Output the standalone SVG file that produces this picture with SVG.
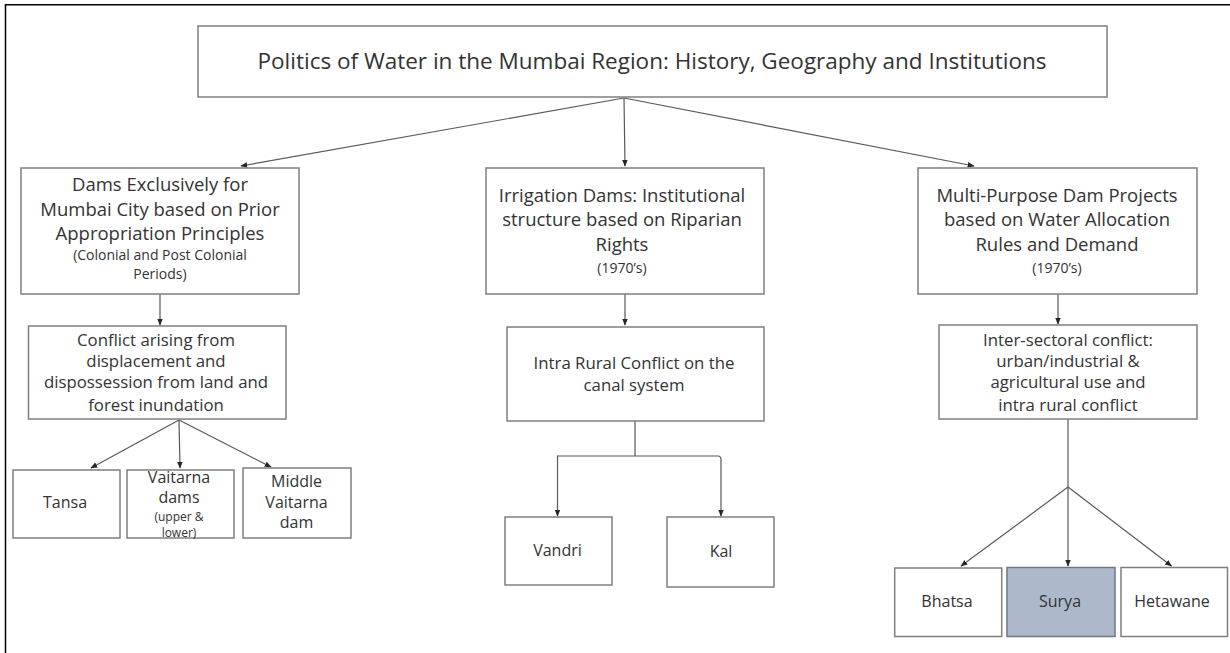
<svg xmlns="http://www.w3.org/2000/svg" width="1230" height="653" viewBox="0 0 1230 653">
<defs>
<marker id="ah" viewBox="0 0 10 10" refX="9" refY="5" markerWidth="7" markerHeight="7" orient="auto" markerUnits="userSpaceOnUse">
<path d="M0,1 L10,5 L0,9 Z" fill="#262626"/>
</marker>
<style>
.box{fill:#ffffff;stroke:#7f7f7f;stroke-width:1.5}
.hl{fill:#adb9ca;stroke:#6f7785;stroke-width:1.5}
.t{font-family:"Open Sans","Liberation Sans",sans-serif;fill:#333333;text-anchor:middle}
.t21{font-size:22.5px}
.t18{font-size:18.5px}
.t17{font-size:16.8px}
.t16{font-size:16px}
.t14{font-size:14px}
.t12{font-size:12px}
.c{fill:none;stroke:#595959;stroke-width:1.2}
.ca{fill:none;stroke:#595959;stroke-width:1.2;marker-end:url(#ah)}
</style>
</defs>
<rect x="0" y="0" width="1230" height="653" fill="#ffffff"/>
<path d="M5.5,653 L5.5,4.7 L1230,4.7" fill="none" stroke="#000" stroke-width="1.5"/>

<g id="connectors">
<line class="ca" x1="624" y1="98" x2="241" y2="166"/>
<line class="ca" x1="624" y1="98" x2="625" y2="166"/>
<line class="ca" x1="624" y1="98" x2="974" y2="166"/>
<line class="ca" x1="160" y1="294" x2="160" y2="325"/>
<line class="ca" x1="625" y1="294" x2="625" y2="325"/>
<line class="ca" x1="1058" y1="294" x2="1058" y2="324"/>
<line class="ca" x1="179" y1="420" x2="91" y2="468"/>
<line class="ca" x1="179" y1="420" x2="180" y2="468"/>
<line class="ca" x1="179" y1="420" x2="271" y2="467"/>
<path class="c" d="M635,421 L635,456"/>
<path class="ca" d="M635,456 L557.5,456 L557.5,516"/>
<path class="ca" d="M635,456 L718,456 Q721,456 721,460 L721,516"/>
<line class="c" x1="1068" y1="419" x2="1068" y2="487"/>
<line class="ca" x1="1068" y1="487" x2="961" y2="566"/>
<line class="ca" x1="1068" y1="487" x2="1068" y2="566"/>
<line class="ca" x1="1068" y1="487" x2="1171.5" y2="566"/>
</g>

<g id="title">
<rect class="box" x="198" y="26" width="909" height="71"/>
<text class="t t21" x="652" y="69">Politics of Water in the Mumbai Region: History, Geography and Institutions</text>
</g>

<g id="dams-mumbai">
<rect class="box" x="21" y="168" width="278" height="126"/>
<text class="t t18" x="160" y="191">Dams Exclusively for</text>
<text class="t t18" x="160" y="216">Mumbai City based on Prior</text>
<text class="t t18" x="160" y="240">Appropriation Principles</text>
<text class="t t14" x="160" y="260">(Colonial and Post Colonial</text>
<text class="t t14" x="160" y="279">Periods)</text>
</g>

<g id="irrigation-dams">
<rect class="box" x="486" y="168" width="278" height="126"/>
<text class="t t18" x="622" y="202">Irrigation Dams: Institutional</text>
<text class="t t18" x="622" y="226">structure based on Riparian</text>
<text class="t t18" x="622" y="251">Rights</text>
<text class="t t14" x="622" y="273">(1970’s)</text>
</g>

<g id="multi-purpose">
<rect class="box" x="918" y="168" width="279" height="126"/>
<text class="t t18" x="1057" y="202">Multi-Purpose Dam Projects</text>
<text class="t t18" x="1057" y="226">based on Water Allocation</text>
<text class="t t18" x="1057" y="251">Rules and Demand</text>
<text class="t t14" x="1057" y="273">(1970’s)</text>
</g>

<g id="conflict-displacement">
<rect class="box" x="28.5" y="326" width="257.5" height="93"/>
<text class="t t17" x="156" y="346">Conflict arising from</text>
<text class="t t17" x="156" y="367">displacement and</text>
<text class="t t17" x="156" y="388">dispossession from land and</text>
<text class="t t17" x="156" y="411">forest inundation</text>
</g>

<g id="intra-rural">
<rect class="box" x="507" y="327" width="257" height="94"/>
<text class="t t17" x="634" y="369">Intra Rural Conflict on the</text>
<text class="t t17" x="634" y="391">canal system</text>
</g>

<g id="inter-sectoral">
<rect class="box" x="939" y="325" width="258" height="94"/>
<text class="t t17" x="1068" y="346">Inter-sectoral conflict:</text>
<text class="t t17" x="1068" y="367">urban/industrial &amp;</text>
<text class="t t17" x="1068" y="388">agricultural use and</text>
<text class="t t17" x="1068" y="411">intra rural conflict</text>
</g>

<g id="tansa">
<rect class="box" x="13" y="470" width="107" height="68"/>
<text class="t t16" x="65" y="508">Tansa</text>
</g>

<g id="vaitarna">
<rect class="box" x="127" y="470" width="107" height="68"/>
<text class="t t16" x="179" y="483">Vaitarna</text>
<text class="t t16" x="179" y="503">dams</text>
<text class="t t12" x="179" y="521">(upper &amp;</text>
<text class="t t12" x="179" y="537">lower)</text>
</g>

<g id="middle-vaitarna">
<rect class="box" x="243" y="468" width="108" height="70"/>
<text class="t t16" x="296.5" y="487">Middle</text>
<text class="t t16" x="296.5" y="508">Vaitarna</text>
<text class="t t16" x="296.5" y="528">dam</text>
</g>

<g id="vandri">
<rect class="box" x="505" y="517" width="107" height="68"/>
<text class="t t16" x="557.5" y="556">Vandri</text>
</g>

<g id="kal">
<rect class="box" x="667" y="517" width="107" height="70"/>
<text class="t t16" x="721" y="557">Kal</text>
</g>

<g id="bhatsa">
<rect class="box" x="894.7" y="568" width="107" height="68.5"/>
<text class="t t16" x="947" y="607">Bhatsa</text>
</g>

<g id="surya">
<rect class="hl" x="1007" y="567.5" width="108" height="69"/>
<text class="t t16" x="1060" y="607">Surya</text>
</g>

<g id="hetawane">
<rect class="box" x="1121" y="567.5" width="106.5" height="69"/>
<text class="t t16" x="1172" y="607">Hetawane</text>
</g>
</svg>
